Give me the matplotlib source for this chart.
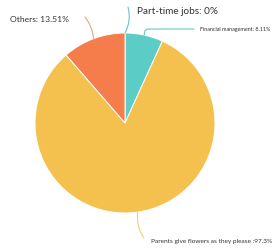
import numpy as np
import matplotlib.pyplot as plt

# slices, clockwise from the top
labels = ['Part-time jobs', 'Financial management', 'Parents give flowers as they please', 'Others']
values = [0, 8.11, 97.3, 13.51]
label_text = ['Part-time jobs: 0%', 'Financial management: 8.11%',
              'Parents give flowers as they please :97.3%', 'Others: 13.51%']
colors = ['#5ccdc6', '#5ccdc6', '#f5c14e', '#f47d4b']

plt.rcParams['font.family'] = ['Lato', 'DejaVu Sans']

fig = plt.figure(figsize=(2.72, 2.48), dpi=100)
ax = fig.add_axes([0, 0, 1, 1])

cx, cy, r = 125, 125, 90
wedges, _ = ax.pie(values, colors=colors, startangle=90, counterclock=False,
                   center=(cx, cy), radius=r, frame=True,
                   wedgeprops=dict(edgecolor='white', linewidth=0.7))
ax.set_xlim(0, 272)
ax.set_ylim(0, 248)
ax.set_aspect('equal')
ax.axis('off')

# label placement, and the far end of each leader line
text_pos = [(137, 237), (200, 218), (151, 7), (10, 228)]
line_end = [(128, 241), (194, 219), (144, 10), (85, 231)]
sizes = [7.2, 3.9, 4.65, 6.1]
conns = ['arc3,rad=-0.2', 'angle,angleA=0,angleB=80,rad=3',
         'arc3,rad=-0.2', 'arc3,rad=-0.15']
line_cols = ['#6cc4c4', '#6cc4c4', '#f1cf7a', '#dfa48a']

for i, w in enumerate(wedges):
    ang = np.deg2rad((w.theta1 + w.theta2) / 2)
    px = cx + r * np.cos(ang)
    py = cy + r * np.sin(ang)
    ax.text(text_pos[i][0], text_pos[i][1], label_text[i], fontsize=sizes[i],
            color='#333333', va='center', ha='left')
    ax.annotate('', xy=(px, py), xytext=line_end[i],
                arrowprops=dict(arrowstyle='-', color=line_cols[i], lw=0.8,
                                connectionstyle=conns[i],
                                shrinkA=0, shrinkB=0))

plt.savefig('out.png', dpi=100)
